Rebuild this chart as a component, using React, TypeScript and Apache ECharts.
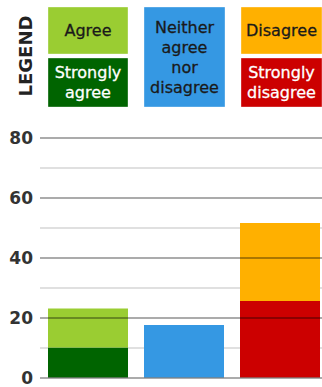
import React, { useEffect, useRef } from "react";
import * as echarts from "echarts";

const categories = ["Agree", "Neither", "Disagree"];
const stronglyAgree = [10, "-", "-"];
const agree = [13, "-", "-"];
const neither = ["-", 17.5, "-"];
const stronglyDisagree = ["-", "-", 25.5];
const disagree = ["-", "-", 26];
const yTicks = [0, 20, 40, 60, 80];

const legendItems = [
  { text: "Agree", x: 48, y: 7, w: 80, h: 47, fill: "#9acd32", color: "#1a1a1a" },
  { text: "Strongly\nagree", x: 48, y: 58, w: 80, h: 49, fill: "#006400", color: "#ffffff" },
  { text: "Neither\nagree\nnor\ndisagree", x: 144, y: 7, w: 81, h: 100, fill: "#3598e3", color: "#1a1a1a" },
  { text: "Disagree", x: 241, y: 7, w: 81, h: 47, fill: "#ffb000", color: "#1a1a1a" },
  { text: "Strongly\ndisagree", x: 241, y: 58, w: 81, h: 49, fill: "#cc0000", color: "#ffffff" },
];

export default function App() {
  const ref = useRef<HTMLDivElement>(null);
  useEffect(() => {
    if (!ref.current) return;
    const chart = echarts.init(ref.current, null, { renderer: "svg" });
    const font = "DejaVu Sans";
    const graphic: any[] = [
      {
        type: "text",
        x: 25,
        y: 56,
        rotation: Math.PI / 2,
        style: {
          text: "LEGEND",
          font: `bold 18px '${font}'`,
          fill: "#222",
          textAlign: "center",
          textVerticalAlign: "middle",
        },
      },
    ];
    legendItems.forEach((it) => {
      graphic.push({
        type: "rect",
        shape: { x: it.x, y: it.y, width: it.w, height: it.h },
        style: { fill: it.fill, stroke: "rgba(255,255,255,0.35)", lineWidth: 1 },
      });
      graphic.push({
        type: "text",
        x: it.x + it.w / 2,
        y: it.y + it.h / 2,
        style: {
          text: it.text,
          font: `16px '${font}'`,
          fill: it.color,
          stroke: it.color,
          lineWidth: 0.3,
          textAlign: "center",
          textVerticalAlign: "middle",
          lineHeight: 20,
        },
      });
    });
    const bar = (name: string, data: any[], color: string) => ({
      name,
      type: "bar",
      stack: "total",
      barWidth: 80,
      data,
      itemStyle: { color },
      z: 2,
    });
    chart.setOption({
      animation: false,
      graphic,
      grid: { left: 40, right: 0, top: 137.5, height: 240 },
      xAxis: {
        type: "category",
        data: categories,
        axisLine: { show: false },
        axisTick: { show: false },
        axisLabel: { show: false },
      },
      yAxis: [
        {
          type: "value",
          min: 0,
          max: 80,
          interval: 10,
          z: 0,
          axisLine: { show: false },
          axisTick: { show: false },
          axisLabel: {
            margin: 7,
            fontFamily: font,
            fontSize: 17,
            fontWeight: "bold",
            color: "#333",
            formatter: (v: number) => (yTicks.includes(v) ? String(v) : ""),
          },
          splitLine: { lineStyle: { color: ["rgba(0,0,0,0)", "#e0e0e0"], width: 2 } },
        },
        {
          type: "value",
          min: 0,
          max: 80,
          interval: 20,
          z: 10,
          position: "left",
          axisLine: { show: false },
          axisTick: { show: false },
          axisLabel: { show: false },
          splitLine: { lineStyle: { color: "rgba(0,0,0,0.33)", width: 2 } },
        },
      ],
      series: [
        bar("Strongly agree", stronglyAgree, "#006400"),
        bar("Agree", agree, "#9acd32"),
        bar("Neither agree nor disagree", neither, "#3598e3"),
        bar("Strongly disagree", stronglyDisagree, "#cc0000"),
        bar("Disagree", disagree, "#ffb000"),
      ],
    });
    return () => chart.dispose();
  }, []);
  return (
    <div
      style={{ position: "absolute", left: 0, top: 0, width: 322, height: 387, overflow: "hidden", background: "#fff" }}
    >
      <div ref={ref} style={{ width: 328, height: 387 }} />
    </div>
  );
}
